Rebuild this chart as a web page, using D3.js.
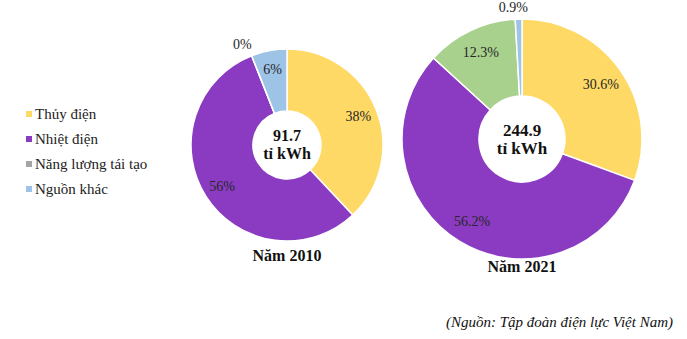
<!DOCTYPE html>
<html>
<head>
<meta charset="utf-8">
<script src="https://cdn.jsdelivr.net/npm/d3@7"></script>
</head>
<body style="margin:0; background:#fff">
<svg width="687" height="339"></svg>
<script>
// data
var categories = ["Thủy điện", "Nhiệt điện", "Năng lượng tái tạo", "Nguồn khác"];
var values2010 = [38, 56, 0, 6];
var values2021 = [30.6, 56.2, 12.3, 0.9];
var labels2010 = ["38%", "56%", "0%", "6%"];
var labels2021 = ["30.6%", "56.2%", "12.3%", "0.9%"];
var totals = ["91.7", "244.9"];
var years = ["Năm 2010", "Năm 2021"];

var legendColors = ["#ffd966", "#8a3bc1", "#a5a5a5", "#9dc3e6"];
var colors2021 = ["#ffd966", "#8a3bc1", "#a9d18e", "#9dc3e6"];

var FONT = "Liberation Serif";

var svg = d3.select("svg").attr("font-family", FONT);

// legend
var legend = svg.append("g").attr("class", "legend");
var rows = legend.selectAll("g")
  .data(categories)
  .enter()
  .append("g")
  .attr("transform", (d, i) => "translate(26," + (114 + i * 25) + ")");
rows.append("rect")
  .attr("x", 0).attr("y", -3)
  .attr("width", 6).attr("height", 6)
  .attr("fill", (d, i) => legendColors[i]);
rows.append("text")
  .attr("x", 9).attr("y", 0)
  .attr("dy", "0.33em")
  .attr("font-size", 15)
  .attr("fill", "#222")
  .text(d => d);

var pie = d3.pie().sort(null).value(d => d);

function donut(values, labels, colors, cx, cy, R, r0, total, year, centerSize, yearY) {
  var g = svg.append("g").attr("transform", "translate(" + cx + "," + cy + ")");
  var arcs = pie(values);
  var arc = d3.arc().innerRadius(r0).outerRadius(R);
  var inLabel = d3.arc().innerRadius(R * 0.8).outerRadius(R * 0.8);
  var outLabel = d3.arc().innerRadius(R + 12).outerRadius(R + 12);

  g.selectAll("path")
    .data(arcs)
    .enter()
    .append("path")
    .attr("d", arc)
    .attr("fill", (d, i) => colors[i])
    .attr("stroke", "#fff")
    .attr("stroke-width", 1.5);

  // small slices get their label outside the ring
  g.selectAll("text.pct")
    .data(arcs)
    .enter()
    .append("text")
    .attr("class", "pct")
    .attr("transform", function (d) {
      var c = d.data < 3 ? outLabel.centroid(d) : inLabel.centroid(d);
      if (d.data < 3) c[0] -= 5;
      return "translate(" + c[0] + "," + c[1] + ")";
    })
    .attr("text-anchor", "middle")
    .attr("dy", "0.33em")
    .attr("font-size", 14)
    .attr("fill", "#262626")
    .text((d, i) => labels[i]);

  // center
  g.append("text")
    .attr("y", -9)
    .attr("dy", "0.33em")
    .attr("text-anchor", "middle")
    .attr("font-size", centerSize)
    .attr("font-weight", "bold")
    .attr("fill", "#111")
    .text(total);
  g.append("text")
    .attr("y", 9)
    .attr("dy", "0.33em")
    .attr("text-anchor", "middle")
    .attr("font-size", centerSize)
    .attr("font-weight", "bold")
    .attr("fill", "#111")
    .text("tỉ kWh");

  svg.append("text")
    .attr("x", cx)
    .attr("y", yearY)
    .attr("dy", "0.33em")
    .attr("text-anchor", "middle")
    .attr("font-size", 16)
    .attr("font-weight", "bold")
    .attr("fill", "#111")
    .text(year);
}

donut(values2010, labels2010, legendColors, 287, 145, 96, 34, totals[0], years[0], 16, 256);
donut(values2021, labels2021, colors2021, 522, 139, 120, 43, totals[1], years[1], 17, 267);

// source
svg.append("text")
  .attr("x", 673)
  .attr("y", 322)
  .attr("dy", "0.33em")
  .attr("text-anchor", "end")
  .attr("font-size", 15)
  .attr("font-style", "italic")
  .attr("fill", "#111")
  .text("(Nguồn: Tập đoàn điện lực Việt Nam)");
</script>
</body>
</html>
